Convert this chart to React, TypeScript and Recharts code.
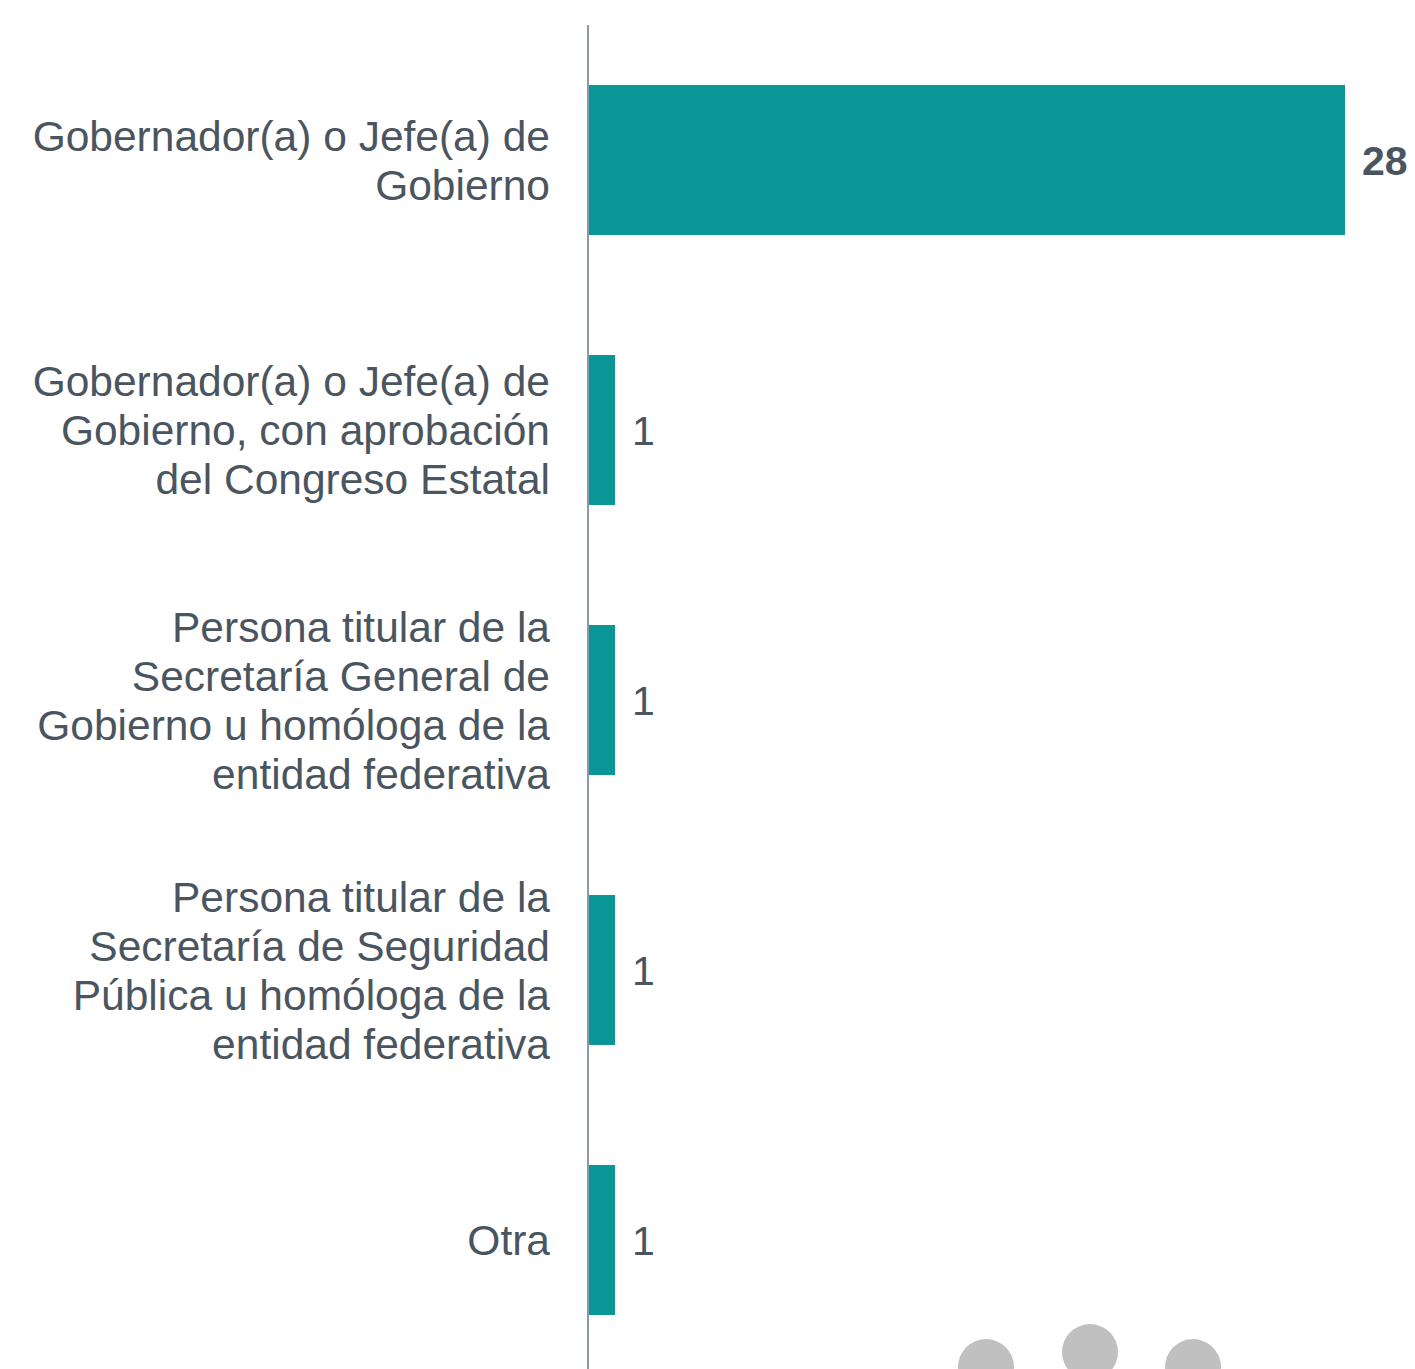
import React from "react";
import { BarChart, Bar, XAxis, YAxis, LabelList } from "recharts";

const categories = [
  "Gobernador(a) o Jefe(a) de\nGobierno",
  "Gobernador(a) o Jefe(a) de\nGobierno, con aprobación\ndel Congreso Estatal",
  "Persona titular de la\nSecretaría General de\nGobierno u homóloga de la\nentidad federativa",
  "Persona titular de la\nSecretaría de Seguridad\nPública u homóloga de la\nentidad federativa",
  "Otra",
];
const values = [28, 1, 1, 1, 1];

const data = categories.map((name, i) => ({ name, value: values[i] }));

const TEXT = "#4b5560";
const FONT = "'Liberation Sans', Arial, sans-serif";

const CategoryTick = (props: any) => {
  const { x, y, payload } = props;
  const lines = String(payload.value).split("\n");
  const lh = 49;
  const start = -((lines.length - 1) / 2) * lh;
  return (
    <text
      x={x}
      y={y}
      textAnchor="end"
      fill={TEXT}
      fontSize={42.5}
      fontFamily={FONT}
    >
      {lines.map((l, i) => (
        <tspan key={i} x={x} y={y + start + i * lh} dy="0.355em">
          {l}
        </tspan>
      ))}
    </text>
  );
};

const ValueLabel = (props: any) => {
  const { x, y, width, height, value, index } = props;
  return (
    <text
      x={x + width + 17}
      y={y + height / 2}
      dy="0.355em"
      textAnchor="start"
      fill={TEXT}
      fontSize={41}
      fontWeight={index === 0 ? "bold" : "normal"}
      fontFamily={FONT}
    >
      {value}
    </text>
  );
};

export default function App() {
  return (
    <div
      style={{
        position: "fixed",
        left: 0,
        top: 0,
        width: 1415,
        height: 1369,
        overflow: "hidden",
        background: "#fff",
      }}
    >
      <BarChart
        width={1415}
        height={1375}
        data={data}
        layout="vertical"
        margin={{ top: 25, right: 70, bottom: 0, left: 0 }}
      >
        <XAxis type="number" domain={[0, 28]} hide />
        <YAxis
          type="category"
          dataKey="name"
          width={588}
          tickLine={false}
          tickMargin={32}
          axisLine={{ stroke: "#8c9aa6", strokeWidth: 2 }}
          tick={<CategoryTick />}
          interval={0}
        />
        <Bar dataKey="value" fill="#0a9696" barSize={150} isAnimationActive={false}>
          <LabelList dataKey="value" content={<ValueLabel />} />
        </Bar>
      </BarChart>
      <svg
        width={1415}
        height={1369}
        style={{ position: "absolute", left: 0, top: 0, pointerEvents: "none" }}
      >
        <circle cx={986} cy={1367} r={28} fill="#c0c0c0" />
        <circle cx={1090} cy={1352} r={28} fill="#c0c0c0" />
        <circle cx={1193} cy={1367} r={28} fill="#c0c0c0" />
      </svg>
    </div>
  );
}
